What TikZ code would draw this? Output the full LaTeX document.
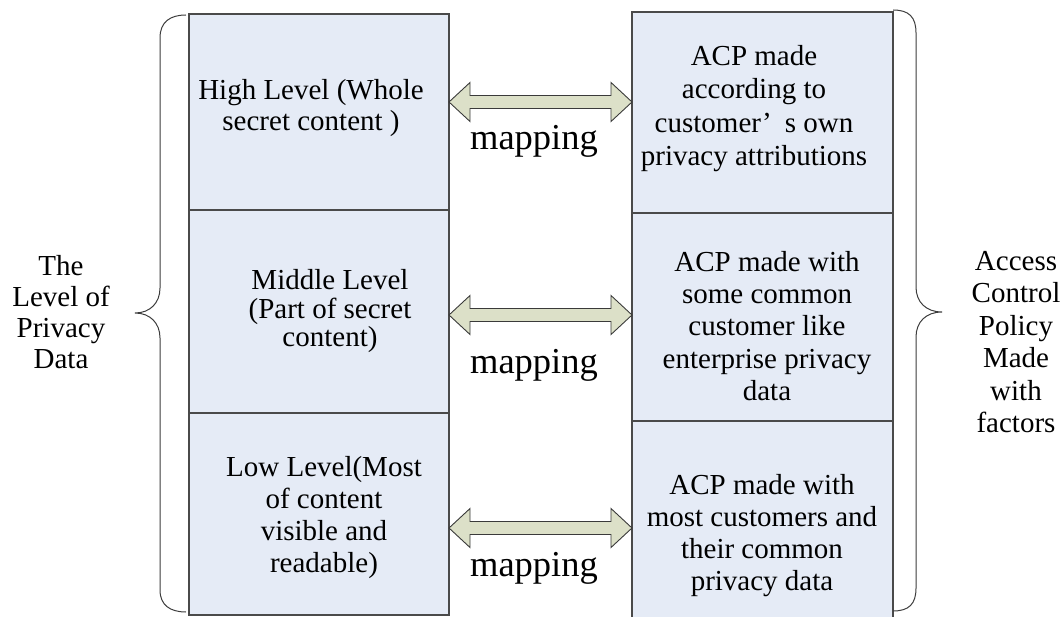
\documentclass[tikz,border=0pt]{standalone}
\usepackage{fontspec}
\setmainfont{Liberation Serif}
\usetikzlibrary{calc}

\definecolor{cellblue}{HTML}{E5EBF6}
\definecolor{cellline}{HTML}{4A4A4A}
\definecolor{arrowfill}{HTML}{DCE0C8}
\definecolor{arrowline}{HTML}{3A3A3A}
\definecolor{braceline}{HTML}{3C3C3C}

\tikzset{
  cell/.style={draw=cellline, fill=cellblue, line width=1.1pt, inner sep=0pt,
    outer sep=0pt, minimum width=#1},
  cell/.default=260pt,
  celltext/.style={align=center, inner sep=0pt, font=\fontsize{29}{#1}\selectfont},
  celltext/.default=33,
  sidetext/.style={align=center, inner sep=0pt, font=\fontsize{29}{#1}\selectfont},
  maptext/.style={inner sep=0pt, anchor=base, font=\fontsize{36.5}{40}\selectfont},
  brace/.style={draw=braceline, line width=1pt},
  maparrow/.style={draw=arrowline, fill=arrowfill, line width=0.9pt, line join=miter},
}

% double-headed block arrow between two named points
\newcommand\blockarrow[2]{%
  \path[maparrow] (#1) -- ($(#1)+(21,-19.5)$) -- ($(#1)+(21,-6.5)$)
    -- ($(#2)+(-21,-6.5)$) -- ($(#2)+(-21,-19.5)$) -- (#2)
    -- ($(#2)+(-21,19.5)$) -- ($(#2)+(-21,6.5)$)
    -- ($(#1)+(21,6.5)$) -- ($(#1)+(21,19.5)$) -- cycle;}

\begin{document}
\begin{tikzpicture}[x=1pt, y=-1pt]
\useasboundingbox (0,0) rectangle (1064,617);

% privacy levels (left column)
\node[cell, minimum height=196pt] (L1) at (319,112) {};
\node[cell, minimum height=203pt] (L2) at (319,311.5) {};
\node[cell, minimum height=202pt] (L3) at (319,514) {};

% access control policies (right column)
\node[cell=261pt, minimum height=201pt] (R1) at (762.5,112.5) {};
\node[cell=261pt, minimum height=208pt] (R2) at (762.5,317) {};
\node[cell=261pt, minimum height=198pt] (R3) at (762.5,520) {};

% cell texts
\node[celltext=31] (L1t) at (311,108.5) {High Level (Whole\\secret content )};
\node[celltext=28.5] (L2t) at (330,311.5) {Middle Level\\(Part of secret\\content)};
\node[celltext=32] (L3t) at (324,518) {Low Level(Most\\of content\\visible and\\readable)};
\node[celltext=33.3] (R1t) at (754,108.5) {ACP made\\according to\\customer’\hspace{0.45em}s own\\privacy attributions};
\node[celltext=32.4] (R2t) at (767,326) {ACP made with\\some common\\customer like\\enterprise privacy\\data};
\node[celltext=32] (R3t) at (762,536) {ACP made with\\most customers and\\their common\\privacy data};

% mapping arrows
\coordinate (a1l) at (L1.east |- 0,102);
\coordinate (a1r) at (R1.west |- 0,102);
\coordinate (a2l) at (L2.east |- 0,315);
\coordinate (a2r) at (R2.west |- 0,315);
\coordinate (a3l) at (L3.east |- 0,528);
\coordinate (a3r) at (R3.west |- 0,528);
\blockarrow{a1l}{a1r}
\blockarrow{a2l}{a2r}
\blockarrow{a3l}{a3r}

\node[maptext] (m1) at (534,150) {mapping};
\node[maptext] (m2) at (534,373) {mapping};
\node[maptext] (m3) at (534,576) {mapping};

% braces
\draw[brace] (186,15) .. controls (170,15) and (160,22) .. (160,38) -- (160,288)
  .. controls (160,303) and (150,313) .. (135,313)
  .. controls (150,313) and (160,323) .. (160,338) -- (160,590)
  .. controls (160,605) and (170,612) .. (186,612);
\draw[brace] (893,10) .. controls (909,10) and (916,17) .. (916,33) -- (916,287)
  .. controls (916,302) and (926,312) .. (942,312)
  .. controls (926,312) and (916,322) .. (916,337) -- (916,588)
  .. controls (916,604) and (909,611) .. (893,611);

% brace labels
\node[sidetext=31] (left) at (61,312) {The\\Level of\\Privacy\\Data};
\node[sidetext=32.5] (right) at (1016,342) {Access\\Control\\Policy\\Made\\with\\factors};
\end{tikzpicture}
\end{document}
